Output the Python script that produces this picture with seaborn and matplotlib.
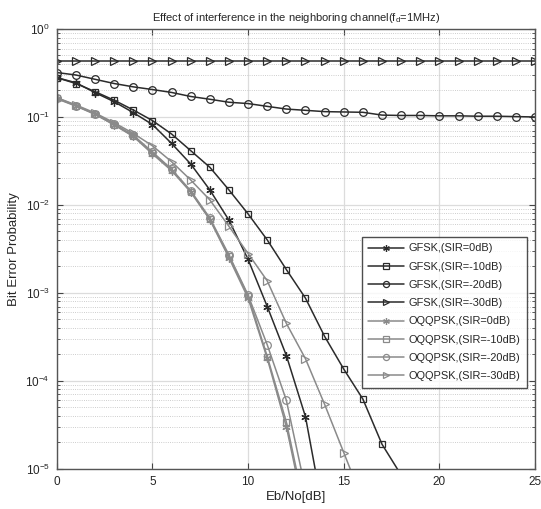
import numpy as np
import pandas as pd
import matplotlib
matplotlib.use("Agg")
import matplotlib.pyplot as plt
import seaborn as sns
from matplotlib.ticker import LogLocator, NullFormatter

# --- Data ---
ebno = list(range(26))

gfsk_0 = [0.28, 0.245, 0.189, 0.149, 0.112, 0.082, 0.050, 0.0292, 0.0148, 0.0067,
          0.0024, 7.0e-4, 1.94e-4, 3.9e-5, 2.6e-6]
gfsk_10 = [0.28, 0.24, 0.194, 0.155, 0.120, 0.091, 0.064, 0.0414, 0.0268, 0.0148,
           0.0079, 0.0040, 0.00184, 8.7e-4, 3.2e-4, 1.36e-4, 6.2e-5, 1.9e-5, 8.5e-6]
gfsk_20 = [0.32, 0.30, 0.268, 0.24, 0.22, 0.205, 0.19, 0.171, 0.159, 0.147, 0.142,
           0.132, 0.123, 0.119, 0.115, 0.114, 0.113, 0.105, 0.104, 0.104, 0.103,
           0.103, 0.102, 0.102, 0.101, 0.100]
gfsk_30 = [0.43] * 26

oqpsk_0 = [0.161, 0.133, 0.107, 0.081, 0.060, 0.038, 0.0245, 0.0140, 0.0068, 0.0025,
           8.7e-4, 1.8e-4, 3.0e-5, 2.8e-6]
oqpsk_10 = [0.163, 0.134, 0.108, 0.082, 0.061, 0.039, 0.025, 0.0142, 0.0069, 0.0026,
            9.3e-4, 1.89e-4, 3.4e-5, 3.2e-6]
oqpsk_20 = [0.165, 0.135, 0.109, 0.083, 0.062, 0.040, 0.0255, 0.0145, 0.0071, 0.0027,
            9.4e-4, 2.57e-4, 6.0e-5, 5.8e-6]
oqpsk_30 = [0.166, 0.137, 0.111, 0.086, 0.065, 0.047, 0.031, 0.0192, 0.0114, 0.0057,
            0.0028, 0.00137, 4.5e-4, 1.78e-4, 5.4e-5, 1.53e-5, 4.3e-6]

labels = ["GFSK,(SIR=0dB)", "GFSK,(SIR=-10dB)", "GFSK,(SIR=-20dB)", "GFSK,(SIR=-30dB)",
          "OQQPSK,(SIR=0dB)", "OQQPSK,(SIR=-10dB)", "OQQPSK,(SIR=-20dB)", "OQQPSK,(SIR=-30dB)"]
series = [gfsk_0, gfsk_10, gfsk_20, gfsk_30, oqpsk_0, oqpsk_10, oqpsk_20, oqpsk_30]

DARK = "#2b2b2b"
LIGHT = "#8a8a8a"
markers = [(6, 2, 0), "s", "o", ">"] * 2
msizes = [6, 5, 5.5, 5.5] * 2
colors = [DARK] * 4 + [LIGHT] * 4

sns.set_style("ticks")
plt.rcParams['font.family'] = ['Liberation Sans', 'DejaVu Sans']

fig, ax = plt.subplots(figsize=(5.41, 5.09), dpi=100)
fig.subplots_adjust(left=0.105, right=0.989, top=0.943, bottom=0.079)

for lab, vals, mk, ms, col in zip(labels, series, markers, msizes, colors):
    df = pd.DataFrame({"x": ebno[:len(vals)], "y": vals})
    sns.lineplot(data=df, x="x", y="y", ax=ax, label=lab, color=col,
                 marker=mk, markersize=ms, markerfacecolor="none",
                 markeredgecolor=col, markeredgewidth=0.9, linewidth=1.1)

ax.set_yscale("log")
ax.set_xlim(0, 25)
ax.set_ylim(1e-5, 1)
ax.set_xticks([0, 5, 10, 15, 20, 25])
ax.yaxis.set_major_locator(LogLocator(base=10, numticks=10))
ax.yaxis.set_minor_locator(LogLocator(base=10, subs=np.arange(2, 10), numticks=50))
ax.yaxis.set_minor_formatter(NullFormatter())

ax.grid(which="major", color="#dcdcdc", linestyle="-", linewidth=0.9)
ax.grid(which="minor", axis="y", color="#bdbdbd", linestyle=":", linewidth=0.6)
ax.set_axisbelow(True)

ax.tick_params(which="both", direction="in", top=True, right=True, labelsize=8.5,
               color="#444444")
ax.tick_params(which="major", length=4, pad=5)
ax.tick_params(which="minor", length=2)
for sp in ax.spines.values():
    sp.set_color("#555555")
    sp.set_linewidth(1.0)

ax.set_xlabel("Eb/No[dB]", fontsize=9.5, labelpad=2)
ax.set_ylabel("Bit Error Probability", fontsize=9.5, labelpad=4)
ax.set_title("Effect of interference in the neighboring channel(f$_\\mathregular{d}$=1MHz)",
             fontsize=8, pad=6)

leg = ax.legend(loc="lower right", bbox_to_anchor=(0.995, 0.172), fontsize=7.9,
                frameon=True, fancybox=False, edgecolor="#222222",
                handlelength=3.3, labelspacing=0.75, borderpad=0.6, handletextpad=0.4,
                markerscale=0.8)
leg.get_frame().set_linewidth(1.0)

fig.savefig("out.png", dpi=100)
